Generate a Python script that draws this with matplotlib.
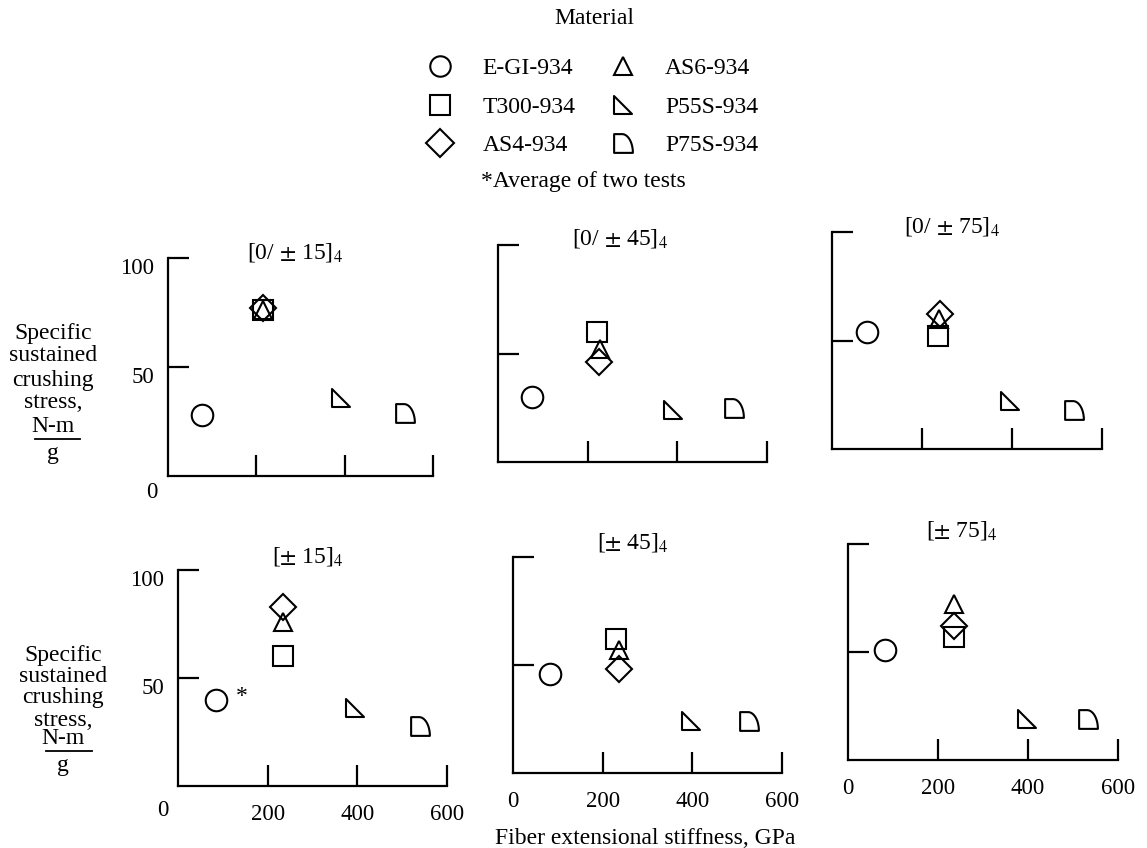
import matplotlib
matplotlib.use("Agg")
import matplotlib.pyplot as plt
from matplotlib.path import Path
from matplotlib.lines import Line2D
import numpy as np

plt.rcParams['font.family'] = ['Liberation Serif', 'DejaVu Serif']
plt.rcParams['mathtext.fontset'] = 'stix'

# ---------------- data ----------------
materials = ['E-GI-934', 'T300-934', 'AS4-934', 'AS6-934', 'P55S-934', 'P75S-934']

titles = [r'[0/ $\pm$ 15]$_4$', r'[0/ $\pm$ 45]$_4$', r'[0/ $\pm$ 75]$_4$',
          r'[$\pm$ 15]$_4$', r'[$\pm$ 45]$_4$', r'[$\pm$ 75]$_4$']

# fiber extensional stiffness, GPa (order follows `materials`)
x_0_15 = [78, 216, 216, 216, 391, 537]
x_0_45 = [76, 220, 225, 227, 391, 527]
x_0_75 = [77, 236, 240, 237, 395, 538]
x_15 = [85, 235, 235, 235, 395, 540]
x_45 = [82, 229, 236, 236, 398, 527]
x_75 = [82, 236, 235, 235, 397, 533]

# specific sustained crushing stress, N-m/g
y_0_15 = [28, 76, 77, 76, 36, 29]
y_0_45 = [30, 60, 46, 52, 24, 25]
y_0_75 = [54, 52, 62, 60, 22, 18]
y_15 = [40, 60, 83, 76, 36, 28]
y_45 = [46, 62, 48, 57, 24, 24]
y_75 = [51, 57, 62, 72, 19, 19]

xs = [x_0_15, x_0_45, x_0_75, x_15, x_45, x_75]
ys = [y_0_15, y_0_45, y_0_75, y_15, y_45, y_75]

x_ticks = [200, 400, 600]
y_ticks = [50, 100]

# ---------------- markers ----------------
p55 = Path([(-1, 1), (-1, -1), (1, -1), (-1, 1)],
           [Path.MOVETO, Path.LINETO, Path.LINETO, Path.CLOSEPOLY])
th = np.linspace(np.pi / 2, 0, 30)
arc = list(zip(-0.15 + 1.15 * np.cos(th), -1 + 2 * np.sin(th)))
p75_verts = [(-1, -1), (-1, 1)] + arc + [(-1, -1)]
p75 = Path(p75_verts, [Path.MOVETO] + [Path.LINETO] * (len(p75_verts) - 2) + [Path.CLOSEPOLY])

mstyle = [('o', 15.5), ('s', 13.8), ('D', 12.8), ('^', 13.0), (p55, 13.5), (p75, 13.5)]
legend_scale = [0.95, 1.0, 1.1, 1.0, 1.0, 1.0]

W, H = 1147, 848
fig = plt.figure(figsize=(W / 100, H / 100), dpi=100)

# panel rectangles in pixels: x0, x1, y_top, y_bottom
rects = [(168, 433, 258, 476), (498, 767, 245, 462), (832, 1102, 232, 449),
         (178, 447, 570, 786), (513, 782, 557, 773), (848, 1118, 544, 760)]
title_pos = [(295, 252), (620, 238), (952, 226), (308, 556), (633, 543), (962, 531)]

FS = 17
TFS = 16.5
LW = 1.6

for k, (x0, x1, yt, yb) in enumerate(rects):
    ax = fig.add_axes([x0 / W, 1 - yb / H, (x1 - x0) / W, (yb - yt) / H])
    ax.set_xlim(0, 600)
    ax.set_ylim(0, 100)
    ax.patch.set_alpha(0)
    for s in ['top', 'right']:
        ax.spines[s].set_visible(False)
    for s in ['left', 'bottom']:
        ax.spines[s].set_linewidth(LW)
    ax.tick_params(direction='in', length=15, width=LW, labelsize=TFS)
    ax.set_yticks(y_ticks)
    bottom_row = k >= 3
    if bottom_row and k > 3:
        ax.set_xticks([0] + x_ticks)
        ax.xaxis.get_major_ticks()[0].tick1line.set_visible(False)
    else:
        ax.set_xticks(x_ticks)
    ax.tick_params(axis='x', pad=13, labelbottom=bottom_row)
    ax.tick_params(axis='y', pad=10, labelleft=(k in (0, 3)))
    for lab in ax.get_yticklabels():
        lab.set_verticalalignment('top')

    for i in range(len(materials)):
        m, ms = mstyle[i]
        ax.plot(xs[k][i], ys[k][i], marker=m, ms=ms, ls='none', mfc='none',
                mec='black', mew=1.5, clip_on=False)
    if k == 3:
        ax.annotate('*', xy=(xs[k][0], ys[k][0]), xytext=(14, 2),
                    textcoords='offset points', fontsize=FS, va='center')

    tx, ty = title_pos[k]
    fig.text(tx / W, 1 - ty / H, titles[k], ha='center', va='center', fontsize=FS)

# corner zero labels
fig.text(152 / W, 1 - 493 / H, '0', ha='center', va='center', fontsize=TFS)
fig.text(163 / W, 1 - 810 / H, '0', ha='center', va='center', fontsize=TFS)

# y-axis labels
def ylabel(cx, ys_lines, bar_y, bar_x0, bar_x1):
    lines = ['Specific', 'sustained', 'crushing', 'stress,', 'N-m', 'g']
    for t, yy in zip(lines, ys_lines):
        fig.text(cx / W, 1 - yy / H, t, ha='center', va='center', fontsize=FS)
    fig.add_artist(Line2D([bar_x0 / W, bar_x1 / W], [1 - bar_y / H, 1 - bar_y / H],
                          color='black', lw=1.3))

ylabel(53, [333, 356, 380, 403, 427, 453], 439, 35, 80)
ylabel(63, [655, 677, 698, 720, 739, 766], 751, 46, 92)

fig.text(645 / W, 1 - 838 / H, 'Fiber extensional stiffness, GPa', ha='center',
         va='center', fontsize=FS)

# legend
handles = [Line2D([], [], marker=m, ms=ms * sc, ls='none', mfc='none', mec='black', mew=1.5)
           for (m, ms), sc in zip(mstyle, legend_scale)]
fig.legend(handles, materials, ncol=2, loc='center',
           bbox_to_anchor=(592 / W, 1 - 107 / H), frameon=False, fontsize=FS,
           handlelength=1.2, handletextpad=1.2, columnspacing=1.4, labelspacing=0.72)
fig.text(594 / W, 1 - 19 / H, 'Material', ha='center', va='center', fontsize=FS)
fig.text(583 / W, 1 - 181 / H, '*Average of two tests', ha='center', va='center', fontsize=FS)

fig.savefig('out.png', dpi=100)
